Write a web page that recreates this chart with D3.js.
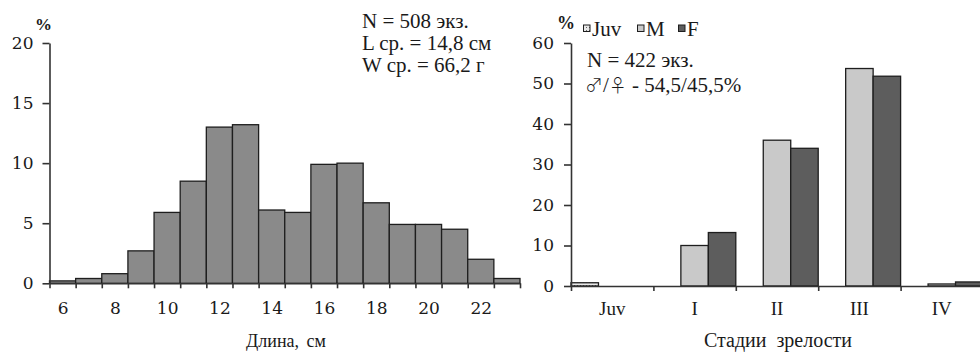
<!DOCTYPE html>
<html>
<head>
<meta charset="utf-8">
<script src="https://cdn.jsdelivr.net/npm/d3@7/dist/d3.min.js"></script>
<style>
  html, body { margin: 0; padding: 0; background: #fff; }
  svg text { font-family: "Liberation Serif", "Times New Roman", serif; fill: #1a1a1a; }
  .axis path, .axis line { stroke: #333; stroke-width: 1.6; }
  .axis.num text { font-family: "DejaVu Serif", serif; font-size: 17px; }
  .axis.cat text { font-family: "Liberation Serif", serif; font-size: 19px; }
</style>
</head>
<body>
<svg id="chart" width="980" height="354"></svg>
<script>
// Length distribution (%), one bar per 1 cm class
const lengthClasses = [6, 7, 8, 9, 10, 11, 12, 13, 14, 15, 16, 17, 18, 19, 20, 21, 22, 23];
const lengthShare   = [0.2, 0.4, 0.8, 2.7, 5.9, 8.5, 13.0, 13.2, 6.1, 5.9, 9.9, 10.0, 6.7, 4.9, 4.9, 4.5, 2.0, 0.4];
const lengthTickLabels = [6, 8, 10, 12, 14, 16, 18, 20, 22];
const lengthYTicks = [0, 5, 10, 15, 20];
const lengthNotes = ["N = 508 экз.", "L ср. = 14,8 см", "W ср. = 66,2 г"];

// Maturity stages (%), by group
const stages = ["Juv", "I", "II", "III", "IV"];
const seriesNames = ["Juv", "M", "F"];
const juvShare = [0.8, 0, 0, 0, 0];
const maleShare = [0, 10.0, 36.0, 53.7, 0.5];
const femaleShare = [0, 13.2, 34.0, 51.8, 1.0];
const stageYTicks = [0, 10, 20, 30, 40, 50, 60];
const stageNoteN = "N = 422 экз.";
const maleSign = "♂";
const femaleSign = "♀";
const sexRatio = " - 54,5/45,5%";

const svg = d3.select("#chart");
const defs = svg.append("defs");
const pat = defs.append("pattern").attr("id", "juvFill")
  .attr("width", 3).attr("height", 3).attr("patternUnits", "userSpaceOnUse");
pat.append("rect").attr("width", 3).attr("height", 3).attr("fill", "#e8e8e8");
pat.append("rect").attr("width", 1).attr("height", 1).attr("fill", "#666");

const seriesFill = { Juv: "url(#juvFill)", M: "#c9c9c9", F: "#5d5d5d" };

// ---------- Left panel: length histogram ----------
const L = { x0: 49.5, x1: 520, y0: 283.3, y1: 43 };
const xBand = d3.scaleBand().domain(lengthClasses).range([L.x0, L.x1]).padding(0);
const xEdge = d3.scaleLinear().domain([5.5, 23.5]).range([L.x0, L.x1]);
const yL = d3.scaleLinear().domain([0, 20]).range([L.y0, L.y1]);

const gL = svg.append("g");
gL.selectAll("rect.bar").data(lengthClasses).join("rect")
  .attr("class", "bar")
  .attr("x", d => xBand(d))
  .attr("width", xBand.bandwidth())
  .attr("y", (d, i) => yL(lengthShare[i]))
  .attr("height", (d, i) => yL(0) - yL(lengthShare[i]))
  .attr("fill", "#8a8a8a")
  .attr("stroke", "#1e1e1e")
  .attr("stroke-width", 1.3);

gL.append("g").attr("class", "axis num")
  .attr("transform", `translate(${L.x0},0)`)
  .call(d3.axisLeft(yL).tickValues(lengthYTicks).tickSize(7).tickSizeOuter(0).tickPadding(9));

// boundary tick marks below the baseline
gL.append("g").attr("class", "axis")
  .attr("transform", `translate(0,${L.y0})`)
  .call(d3.axisBottom(xEdge).tickValues(d3.range(5.5, 24, 1)).tickSize(5).tickSizeOuter(0).tickFormat(""));
// class labels under every second bar
gL.append("g").attr("class", "axis num")
  .attr("transform", `translate(0,${L.y0})`)
  .call(d3.axisBottom(xEdge).tickValues(lengthTickLabels).tickSize(0).tickPadding(19))
  .call(g => g.select(".domain").remove());

gL.append("text").attr("x", 35).attr("y", 30).attr("font-size", 17).attr("font-weight", "bold").text("%");
gL.append("text").attr("x", 286).attr("y", 347).attr("text-anchor", "middle")
  .attr("font-size", 18).attr("word-spacing", 3).text("Длина, см");
gL.selectAll("text.note").data(lengthNotes).join("text")
  .attr("class", "note")
  .attr("x", 362).attr("y", (d, i) => 28 + i * 22)
  .attr("font-size", 21)
  .text(d => d);

// ---------- Right panel: maturity stages ----------
const R = { x0: 571, x1: 983, y0: 286, y1: 43 };
const xG = d3.scaleBand().domain(stages).range([R.x0, R.x1]).padding(0);
const xS = d3.scaleBand().domain(seriesNames).range([0, xG.bandwidth()]).padding(0);
const yR = d3.scaleLinear().domain([0, 60]).range([R.y0, R.y1]);

const stageRows = stages.map((s, i) => ({
  stage: s,
  values: [
    { key: "Juv", v: juvShare[i] },
    { key: "M", v: maleShare[i] },
    { key: "F", v: femaleShare[i] }
  ]
}));

const gR = svg.append("g");
gR.selectAll("g.grp").data(stageRows).join("g")
  .attr("class", "grp")
  .attr("transform", d => `translate(${xG(d.stage)},0)`)
  .selectAll("rect").data(d => d.values.filter(v => v.v > 0)).join("rect")
  .attr("x", d => xS(d.key))
  .attr("width", xS.bandwidth())
  .attr("y", d => yR(d.v))
  .attr("height", d => yR(0) - yR(d.v))
  .attr("fill", d => seriesFill[d.key])
  .attr("stroke", "#1e1e1e")
  .attr("stroke-width", 1.3);

gR.append("g").attr("class", "axis num")
  .attr("transform", `translate(${R.x0},0)`)
  .call(d3.axisLeft(yR).tickValues(stageYTicks).tickSize(7).tickSizeOuter(0).tickPadding(10));

const xEdgeR = d3.scaleLinear().domain([0, stages.length]).range([R.x0, R.x1]);
gR.append("g").attr("class", "axis")
  .attr("transform", `translate(0,${R.y0})`)
  .call(d3.axisBottom(xEdgeR).tickValues(d3.range(0, stages.length + 1)).tickSize(5).tickSizeOuter(0).tickFormat(""));
gR.append("g").attr("class", "axis cat")
  .attr("transform", `translate(0,${R.y0})`)
  .call(d3.axisBottom(xG).tickSize(0).tickPadding(16))
  .call(g => g.select(".domain").remove());

gR.append("text").attr("x", 778).attr("y", 347).attr("text-anchor", "middle")
  .attr("font-size", 20).attr("word-spacing", 5).text("Стадии зрелости");
gR.append("text").attr("x", 557).attr("y", 29).attr("font-size", 18).attr("font-weight", "bold").text("%");

// legend
const legX = { Juv: 583, M: 637, F: 678 };
const leg = gR.selectAll("g.leg").data(seriesNames).join("g")
  .attr("class", "leg")
  .attr("transform", d => `translate(${legX[d]},0)`);
leg.append("rect").attr("x", 0.5).attr("y", 25).attr("width", 6.5).attr("height", 6.5)
  .attr("fill", d => seriesFill[d]).attr("stroke", "#1e1e1e").attr("stroke-width", 1);
leg.append("text").attr("x", 9).attr("y", 36).attr("font-size", 21).text(d => d);

gR.append("text").attr("x", 587).attr("y", 67).attr("font-size", 21).text(stageNoteN);
const sexLine = gR.append("text").attr("x", 585).attr("y", 92).attr("font-size", 21);
sexLine.append("tspan").attr("font-family", "Noto Sans CJK JP").attr("font-weight", 300).attr("font-size", 18).text(maleSign);
sexLine.append("tspan").text("/");
sexLine.append("tspan").attr("font-family", "Noto Sans CJK JP").attr("font-weight", 300).attr("font-size", 18).text(femaleSign);
sexLine.append("tspan").text(sexRatio);
</script>
</body>
</html>
